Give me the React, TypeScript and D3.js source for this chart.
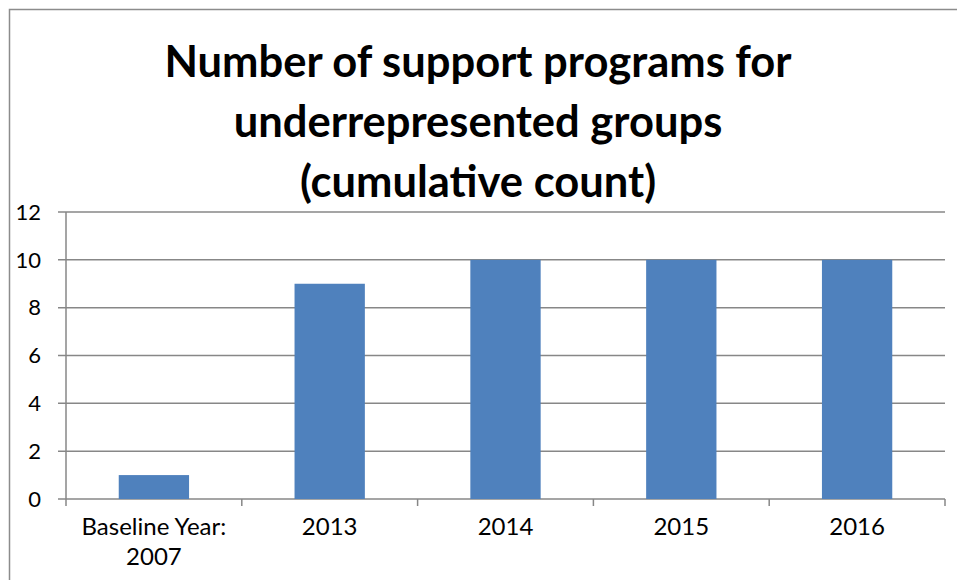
import React, { useEffect, useRef } from 'react';
import * as d3 from 'd3';

const categories = ['Baseline Year: 2007', '2013', '2014', '2015', '2016'];
const categoryLines = [['Baseline Year:', '2007'], ['2013'], ['2014'], ['2015'], ['2016']];
const programCounts = [1, 9, 10, 10, 10];
const yTicks = [0, 2, 4, 6, 8, 10, 12];
const titleLines = ['Number of support programs for', 'underrepresented groups', '(cumulative count)'];

const W = 957;
const H = 580;
const FONT = 'Lato, "Open Sans", sans-serif';

export default function App() {
  const svgRef = useRef<SVGSVGElement | null>(null);

  useEffect(() => {
    if (!svgRef.current) return;
    const svg = d3.select(svgRef.current);
    svg.selectAll('*').remove();

    const margin = { top: 212, right: 12, bottom: 81, left: 66 };

    // chart frame, runs off the right and bottom of the picture
    svg
      .append('rect')
      .attr('x', 9.5)
      .attr('y', 9.5)
      .attr('width', W + 20)
      .attr('height', H + 20)
      .attr('fill', '#fff')
      .attr('stroke', '#8c8c8c')
      .attr('stroke-width', 1.5);

    const x = d3
      .scaleBand<string>()
      .domain(categories)
      .range([margin.left, W - margin.right])
      .paddingInner(0.6)
      .paddingOuter(0.3);

    const y = d3
      .scaleLinear()
      .domain([0, 12])
      .range([H - margin.bottom, margin.top]);

    // gridlines
    svg
      .append('g')
      .selectAll('line')
      .data(yTicks)
      .enter()
      .append('line')
      .attr('x1', margin.left - 8)
      .attr('x2', W - margin.right)
      .attr('y1', (d) => y(d))
      .attr('y2', (d) => y(d))
      .attr('stroke', '#878787')
      .attr('stroke-width', 1.5);

    // y axis line
    svg
      .append('line')
      .attr('x1', margin.left)
      .attr('x2', margin.left)
      .attr('y1', y(12))
      .attr('y2', y(0))
      .attr('stroke', '#878787')
      .attr('stroke-width', 1.5);

    // y labels
    svg
      .append('g')
      .selectAll('text')
      .data(yTicks)
      .enter()
      .append('text')
      .attr('x', 41)
      .attr('y', (d) => y(d))
      .attr('dy', '0.35em')
      .attr('text-anchor', 'end')
      .attr('font-family', FONT)
      .attr('font-size', 22)
      .attr('fill', '#000')
      .text((d) => d);

    // bars
    svg
      .append('g')
      .selectAll('rect')
      .data(programCounts)
      .enter()
      .append('rect')
      .attr('x', (_, i) => x(categories[i])!)
      .attr('y', (d) => y(d))
      .attr('width', x.bandwidth())
      .attr('height', (d) => y(0) - y(d))
      .attr('fill', '#4f81bd');

    // category boundary ticks
    const bounds = d3
      .range(categories.length + 1)
      .map((i) => margin.left + (i * (W - margin.right - margin.left)) / categories.length);
    svg
      .append('g')
      .selectAll('line')
      .data(bounds)
      .enter()
      .append('line')
      .attr('x1', (d) => d)
      .attr('x2', (d) => d)
      .attr('y1', y(0))
      .attr('y2', y(0) + 7)
      .attr('stroke', '#878787')
      .attr('stroke-width', 1.5);

    // category labels
    const labels = svg
      .append('g')
      .selectAll('text')
      .data(categoryLines)
      .enter()
      .append('text')
      .attr('x', (_, i) => x(categories[i])! + x.bandwidth() / 2)
      .attr('y', 535)
      .attr('dy', '0.35em')
      .attr('text-anchor', 'middle')
      .attr('font-family', FONT)
      .attr('font-size', 24)
      .attr('fill', '#000');
    labels
      .selectAll('tspan')
      .data((d) => d)
      .enter()
      .append('tspan')
      .attr('x', function () {
        return (this as any).parentNode.getAttribute('x');
      })
      .attr('dy', (_, j) => (j === 0 ? 0 : 30))
      .text((d) => d);

    // title
    svg
      .append('g')
      .selectAll('text')
      .data(titleLines)
      .enter()
      .append('text')
      .attr('x', 478)
      .attr('y', (_, i) => 62 + i * 60)
      .attr('dy', '0.35em')
      .attr('text-anchor', 'middle')
      .attr('font-family', FONT)
      .attr('font-weight', 'bold')
      .attr('font-size', 43.5)
      .attr('fill', '#000')
      .text((d) => d);
  }, []);

  return (
    <svg
      ref={svgRef}
      width={W}
      height={H}
      style={{ position: 'absolute', left: 0, top: 0 }}
    />
  );
}
